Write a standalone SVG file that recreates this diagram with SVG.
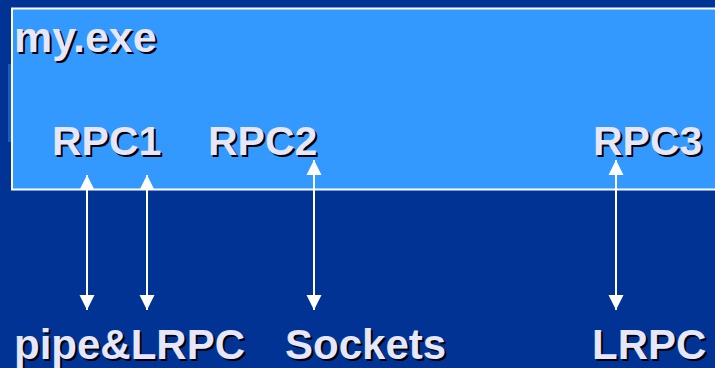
<svg xmlns="http://www.w3.org/2000/svg" width="715" height="368" viewBox="0 0 715 368">
<defs>
<style>
.t{font-family:"Liberation Sans",Arial,sans-serif;font-weight:bold;font-size:41px;fill:#e6e6ff}
.s{font-family:"Liberation Sans",Arial,sans-serif;font-weight:bold;font-size:41px;fill:#000000}
.b{font-size:42px}
.c{stroke:#ffffff;stroke-width:2;fill:none}
</style>
<marker id="ah" markerUnits="userSpaceOnUse" markerWidth="16" markerHeight="16" refX="15" refY="8" orient="auto-start-reverse" viewBox="0 0 16 16">
<path d="M0,0.5 L15,8 L0,15.5 Z" fill="#ffffff"/>
</marker>
</defs>
<rect x="0" y="0" width="715" height="368" fill="#003393"/>
<rect x="8" y="64" width="3" height="78" fill="#1a5cc4"/>
<g id="myexe">
<rect x="12" y="8.5" width="720" height="181" fill="#3399ff" stroke="#ffffff" stroke-width="2"/>
<text class="s" x="16" y="54" style="font-size:43px">my.exe</text>
<text class="t" x="14" y="52" style="font-size:43px">my.exe</text>
</g>
<g id="rpc1">
<text class="s" x="54" y="157">RPC1</text>
<text class="t" x="52" y="155">RPC1</text>
</g>
<g id="rpc2">
<text class="s" x="210" y="157">RPC2</text>
<text class="t" x="208" y="155">RPC2</text>
</g>
<g id="rpc3">
<text class="s" x="595" y="157">RPC3</text>
<text class="t" x="593" y="155">RPC3</text>
</g>
<g id="pipelrpc">
<text class="s b" x="16" y="361">pipe&amp;LRPC</text>
<text class="t b" x="14" y="359">pipe&amp;LRPC</text>
</g>
<g id="sockets">
<text class="s b" x="287" y="361">Sockets</text>
<text class="t b" x="285" y="359">Sockets</text>
</g>
<g id="lrpc">
<text class="s b" x="594" y="361">LRPC</text>
<text class="t b" x="592" y="359">LRPC</text>
</g>
<g id="connectors">
<line class="c" x1="87" y1="175" x2="87" y2="310" marker-start="url(#ah)" marker-end="url(#ah)"/>
<line class="c" x1="147" y1="175" x2="147" y2="310" marker-start="url(#ah)" marker-end="url(#ah)"/>
<line class="c" x1="314" y1="160" x2="314" y2="310" marker-start="url(#ah)" marker-end="url(#ah)"/>
<line class="c" x1="616" y1="160" x2="616" y2="310" marker-start="url(#ah)" marker-end="url(#ah)"/>
</g>
</svg>
